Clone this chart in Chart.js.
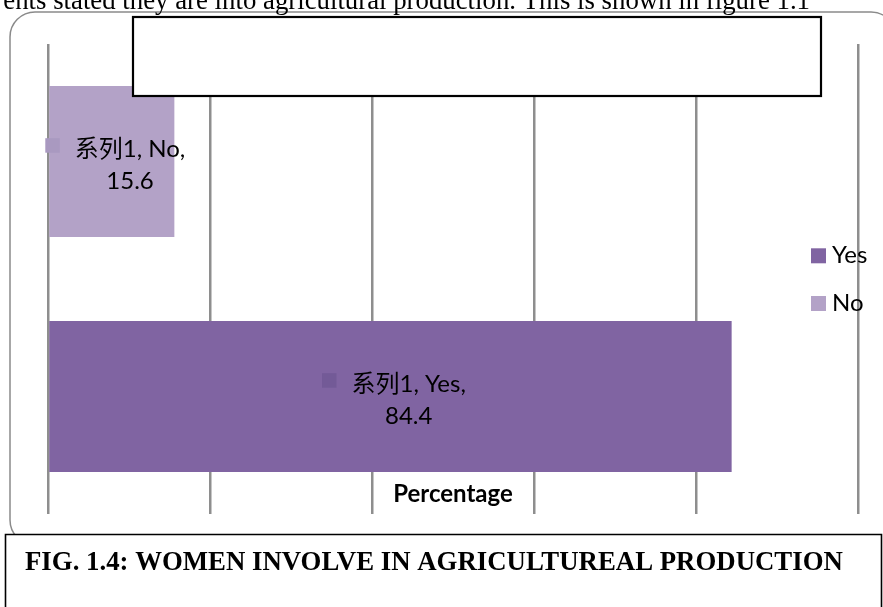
<!DOCTYPE html>
<html>
<head>
<meta charset="utf-8">
<script src="https://cdn.jsdelivr.net/npm/chart.js@4/dist/chart.umd.min.js"></script>
<style>
  html, body { margin: 0; padding: 0; background: #ffffff; overflow: hidden; }
  #wrap { position: absolute; left: 0; top: 0; width: 883px; height: 607px; }
</style>
</head>
<body>
<div id="wrap"><canvas id="c" width="883" height="607"></canvas></div>
<script>
// ---- data ----
const categories = ['No', 'Yes'];
const values = [15.6, 84.4];
const seriesName = '系列1';
const legendOrder = ['Yes', 'No'];
const xTickValues = [0, 20, 40, 60, 80, 100];
const axisTitle = 'Percentage';
const captionText = 'FIG. 1.4: WOMEN INVOLVE IN AGRICULTUREAL PRODUCTION';
const bodyText = 'ents stated they are into agricultural production. This is shown in figure 1.1';

// ---- styles ----
const colorByCategory = { 'No': '#B3A2C7', 'Yes': '#8064A2' };
const keyColorByCategory = { 'No': '#A999C0', 'Yes': '#735A97' };
const labelFont = '24px Lato, "Noto Sans CJK SC", sans-serif';

function roundRectPath(ctx, x, y, w, h, r) {
  ctx.beginPath();
  ctx.moveTo(x + r, y);
  ctx.lineTo(x + w - r, y);
  ctx.arcTo(x + w, y, x + w, y + r, r);
  ctx.lineTo(x + w, y + h - r);
  ctx.arcTo(x + w, y + h, x + w - r, y + h, r);
  ctx.lineTo(x + r, y + h);
  ctx.arcTo(x, y + h, x, y + h - r, r);
  ctx.lineTo(x, y + r);
  ctx.arcTo(x, y, x + r, y, r);
  ctx.closePath();
}

const decorPlugin = {
  id: 'decor',
  beforeDraw(chart) {
    const ctx = chart.ctx;
    ctx.save();
    ctx.fillStyle = '#ffffff';
    ctx.fillRect(0, 0, chart.width, chart.height);
    roundRectPath(ctx, 10, 12, 886, 533, 25);
    ctx.strokeStyle = '#8a8a8a';
    ctx.lineWidth = 1.5;
    ctx.stroke();
    ctx.restore();
  },
  afterDraw(chart) {
    const ctx = chart.ctx;
    const area = chart.chartArea;
    const meta = chart.getDatasetMeta(0);
    ctx.save();

    // data labels
    meta.data.forEach((bar, i) => {
      const cat = categories[i];
      const cx = (bar.base + bar.x) / 2;
      const cy = bar.y;
      ctx.font = labelFont;
      const line1 = seriesName + ', ' + cat + ',';
      const line2 = String(values[i]);
      const w1 = ctx.measureText(line1).width;
      const sq = 14.5, gap = 15;
      const blockW = sq + gap + w1;
      const left = cx + 3.5 - blockW / 2;
      const b1 = cy - 5;
      const b2 = cy + 27.5;
      ctx.fillStyle = keyColorByCategory[cat];
      ctx.fillRect(left, b1 - 3.8 - sq, sq, sq);
      ctx.fillStyle = '#000000';
      ctx.textBaseline = 'alphabetic';
      ctx.textAlign = 'left';
      const tx = left + sq + gap;
      ctx.fillText(line1, tx, b1);
      ctx.textAlign = 'center';
      ctx.fillText(line2, tx + w1 / 2, b2);
    });

    // legend
    ctx.font = labelFont;
    ctx.textAlign = 'left';
    ctx.textBaseline = 'alphabetic';
    legendOrder.forEach((cat, i) => {
      const base = 263.3 + i * 47.7;
      ctx.fillStyle = colorByCategory[cat];
      ctx.fillRect(811, base - 15, 15, 15);
      ctx.fillStyle = '#000000';
      ctx.fillText(cat, 832, base);
    });

    // axis title inside plot
    ctx.font = 'bold 24px Lato, sans-serif';
    ctx.textAlign = 'center';
    ctx.fillStyle = '#000000';
    ctx.fillText(axisTitle, (area.left + area.right) / 2, 501.5);

    // empty title box
    ctx.fillStyle = '#ffffff';
    ctx.fillRect(132, 16, 690, 81);
    ctx.strokeStyle = '#000000';
    ctx.lineWidth = 2.2;
    ctx.strokeRect(133, 17, 688, 79);

    // caption box
    ctx.fillStyle = '#ffffff';
    ctx.fillRect(4, 534, 880, 80);
    ctx.strokeStyle = '#000000';
    ctx.lineWidth = 1.6;
    ctx.beginPath();
    ctx.moveTo(5.5, 620);
    ctx.lineTo(5.5, 534.5);
    ctx.lineTo(881.5, 534.5);
    ctx.lineTo(881.5, 620);
    ctx.stroke();
    ctx.font = 'bold 26.8px "Liberation Serif", "Times New Roman", serif';
    ctx.textAlign = 'left';
    ctx.fillStyle = '#000000';
    ctx.fillText(captionText, 25, 570);

    // cut-off body text at top
    ctx.font = '26.8px "Liberation Serif", "Times New Roman", serif';
    ctx.textAlign = 'right';
    ctx.fillText(bodyText, 810, 9);

    ctx.restore();
  }
};

new Chart(document.getElementById('c'), {
  type: 'bar',
  data: {
    labels: categories,
    datasets: [{
      label: seriesName,
      data: values,
      backgroundColor: categories.map(c => colorByCategory[c]),
      borderWidth: 0,
      categoryPercentage: 0.643,
      barPercentage: 1
    }]
  },
  options: {
    indexAxis: 'y',
    responsive: false,
    devicePixelRatio: 1,
    animation: false,
    layout: { padding: { left: 48, right: 25, top: 44, bottom: 93 } },
    scales: {
      x: {
        type: 'linear',
        min: xTickValues[0],
        max: xTickValues[xTickValues.length - 1],
        afterBuildTicks(scale) { scale.ticks = xTickValues.map(v => ({ value: v })); },
        ticks: { display: false },
        grid: { color: '#8e8e8e', lineWidth: 2.5, drawTicks: false },
        border: { display: false },
        title: { display: false }
      },
      y: { display: false }
    },
    plugins: {
      legend: { display: false },
      tooltip: { enabled: false }
    }
  },
  plugins: [decorPlugin]
});
</script>
</body>
</html>
